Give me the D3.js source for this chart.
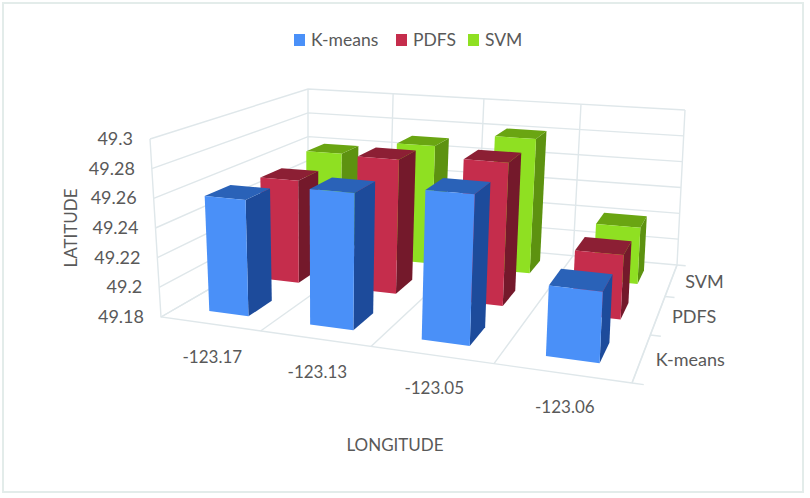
<!DOCTYPE html>
<html>
<head>
<meta charset="utf-8">
<script src="https://cdn.jsdelivr.net/npm/d3@7"></script>
<style>
  html, body { margin: 0; padding: 0; background: #fff; }
  text { font-family: Lato, "Open Sans", sans-serif; fill: #595959; }
</style>
</head>
<body>
<svg id="chart" width="810" height="498"></svg>
<script>
var longitudes = ["-123.17", "-123.13", "-123.05", "-123.06"];
var seriesNames = ["K-means", "PDFS", "SVM"];
var kmeans = [49.2587, 49.27, 49.276, 49.2237];
var pdfs = [49.2547, 49.2757, 49.2795, 49.2233];
var svm = [49.2595, 49.2707, 49.2813, 49.2213];
var latTicks = [49.18, 49.2, 49.22, 49.24, 49.26, 49.28, 49.3];

var seriesValues = [kmeans, pdfs, svm];
var colors = [
  { front: "#4a90f8", top: "#2a62b8", side: "#1d4b9b" },
  { front: "#c52d4c", top: "#8c1f34", side: "#74192b" },
  { front: "#8fe022", top: "#6aa512", side: "#5d9210" }
];

// corners of the box: front-left, front-right, back-right, back-left
var floorQuad = [[161, 317], [632, 383], [677, 265], [308, 232]];
var topQuad = [[150, 139], [641, 178], [685, 110], [308, 89]];

// unit square -> quad
function homography(q) {
  var dx1 = q[1][0] - q[2][0], dx2 = q[3][0] - q[2][0], sx = q[0][0] - q[1][0] + q[2][0] - q[3][0];
  var dy1 = q[1][1] - q[2][1], dy2 = q[3][1] - q[2][1], sy = q[0][1] - q[1][1] + q[2][1] - q[3][1];
  var det = dx1 * dy2 - dx2 * dy1;
  var g = (sx * dy2 - dx2 * sy) / det, h = (dx1 * sy - sx * dy1) / det;
  var a = q[1][0] - q[0][0] + g * q[1][0], b = q[3][0] - q[0][0] + h * q[3][0], c = q[0][0];
  var d = q[1][1] - q[0][1] + g * q[1][1], e = q[3][1] - q[0][1] + h * q[3][1], f = q[0][1];
  return function (u, w) {
    var n = g * u + h * w + 1;
    return [(a * u + b * w + c) / n, (d * u + e * w + f) / n];
  };
}
var floorH = homography(floorQuad), topH = homography(topQuad);

// bars sit a touch right of centre in their cells
var xBand = d3.scaleBand().domain(longitudes).range([0.007, 1.007]).paddingInner(0.6).paddingOuter(0.3);
var zBand = d3.scaleBand().domain(seriesNames).range([0, 1]).paddingInner(0.56).paddingOuter(0.28);
var yLin = d3.scaleLinear().domain([49.18, 49.3]).range([0, 1]);

function project(u, v, w) {
  var a = floorH(u, w), b = topH(u, w);
  return [a[0] + (b[0] - a[0]) * v, a[1] + (b[1] - a[1]) * v];
}

var svg = d3.select("#chart");
var line = d3.line();

svg.append("rect").attr("x", 3).attr("y", 3).attr("width", 800).attr("height", 489)
  .attr("fill", "#fff").attr("stroke", "#e3ecea").attr("stroke-width", 2);

// grid
var grid = svg.append("g").attr("fill", "none").attr("stroke", "#dfe7ea").attr("stroke-width", 1.4);
latTicks.forEach(function (t) {
  var v = yLin(t);
  grid.append("path").attr("d", line([project(0, v, 0), project(0, v, 1), project(1, v, 1)]));
});
var xEdges = d3.range(longitudes.length + 1).map(function (i) { return i / longitudes.length; });
var zEdges = d3.range(seriesNames.length + 1).map(function (i) { return i / seriesNames.length; });
xEdges.forEach(function (u) {
  grid.append("path").attr("d", line([project(u, 0, 0), project(u, 0, 1), project(u, 1, 1)]));
});
// outer floor edges, the z divisions only show as short ticks on the right side
grid.append("path").attr("d", line([project(0, 1, 0), project(0, 0, 0), project(1, 0, 0)]));
grid.append("path").attr("d", line([project(1, 0, 0), project(1, 0, 1)]));
zEdges.forEach(function (w) {
  grid.append("path").attr("d", line([project(1, 0, w), project(1.02, 0, w)]));
});

// bars, back row first
var barsG = svg.append("g");
d3.range(seriesNames.length - 1, -1, -1).forEach(function (s) {
  longitudes.forEach(function (lon, i) {
    var x0 = xBand(lon), x1 = x0 + xBand.bandwidth();
    var z0 = zBand(seriesNames[s]), z1 = z0 + zBand.bandwidth();
    var h = yLin(seriesValues[s][i]);
    var c = colors[s];
    barsG.append("path").attr("fill", c.side)
      .attr("d", line([project(x1, 0, z0), project(x1, 0, z1), project(x1, h, z1), project(x1, h, z0)]) + "Z");
    barsG.append("path").attr("fill", c.top)
      .attr("d", line([project(x0, h, z0), project(x1, h, z0), project(x1, h, z1), project(x0, h, z1)]) + "Z");
    barsG.append("path").attr("fill", c.front)
      .attr("d", line([project(x0, 0, z0), project(x1, 0, z0), project(x1, h, z0), project(x0, h, z0)]) + "Z");
  });
});

// tick labels
var labels = svg.append("g").attr("font-size", 18);
latTicks.forEach(function (t) {
  var p = project(0, yLin(t), 0);
  labels.append("text").attr("x", p[0] - 17).attr("y", p[1] + 6).attr("text-anchor", "end").text(t);
});
longitudes.forEach(function (lon) {
  var p = project(xBand(lon) + xBand.bandwidth() / 2, 0, 0);
  labels.append("text").attr("x", p[0] + 0).attr("y", p[1] + 39).attr("text-anchor", "middle").attr("font-size", 17).text(lon);
});
seriesNames.forEach(function (name) {
  var p = project(1, 0, zBand(name) + zBand.bandwidth() / 2);
  labels.append("text").attr("x", p[0] + 14).attr("y", p[1] + 8).text(name);
});

svg.append("text").attr("x", 395).attr("y", 451).attr("text-anchor", "middle").attr("font-size", 17).text("LONGITUDE");
svg.append("text").attr("transform", "translate(77,228) rotate(-90)").attr("text-anchor", "middle").attr("font-size", 17).text("LATITUDE");

// legend
var legendX = [294, 396, 468];
seriesNames.forEach(function (name, i) {
  svg.append("rect").attr("x", legendX[i]).attr("y", 34).attr("width", 11).attr("height", 12).attr("fill", colors[i].front);
  svg.append("text").attr("x", legendX[i] + 17).attr("y", 46).attr("font-size", 17.5).text(name);
});
</script>
</body>
</html>
